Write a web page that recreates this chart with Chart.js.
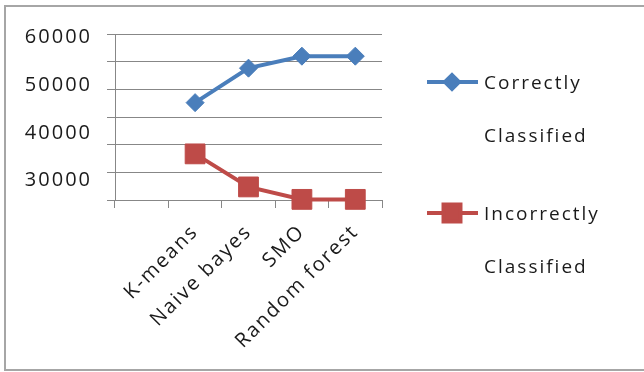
<!DOCTYPE html>
<html>
<head>
<meta charset="utf-8">
<script src="https://cdn.jsdelivr.net/npm/chart.js@4/dist/chart.umd.min.js"></script>
<style>
  html, body { margin: 0; padding: 0; background: #fff; }
  canvas { display: block; }
</style>
</head>
<body>
<canvas id="chart" width="644" height="372"></canvas>
<script>
// Classifier results (number of instances)
const categories = ['', 'K-means', 'Naive bayes', 'SMO', 'Random forest'];
const correctlyClassified = [null, 46300, 53500, 56000, 56000];
const incorrectlyClassified = [null, 35600, 28700, 26100, 26100];
const seriesNames = ['Correctly Classified', 'Incorrectly Classified'];
const yTickValues = [30000, 40000, 50000, 60000];

const FONT = "'Open Sans', 'DejaVu Sans', sans-serif";
const GRID = '#878787';
const BLUE = '#4A7EBB';
const RED = '#BE4B48';
const TEXT = '#1a1a1a';
const LETTER_SPACING = '2px';

// Canvas background, frame and letter spacing for all chart text
const framePlugin = {
  id: 'frame',
  beforeUpdate(chart) { chart.ctx.letterSpacing = LETTER_SPACING; },
  beforeDraw(chart) {
    const ctx = chart.ctx;
    ctx.letterSpacing = LETTER_SPACING;
    ctx.save();
    ctx.fillStyle = '#fff';
    ctx.fillRect(0, 0, chart.width, chart.height);
    ctx.strokeStyle = '#a6a6a6';
    ctx.lineWidth = 2;
    ctx.strokeRect(5, 6, chart.width + 10, 364);
    ctx.restore();
  }
};

// Legend on the right: each series name broken onto two lines
const legendMarkerRadius = { rectRot: 7, rect: 12 };
const sideLegend = {
  id: 'sideLegend',
  afterDraw(chart) {
    const ctx = chart.ctx;
    const rows = [82, 213];
    const x0 = 427, x1 = 478, xm = 452, tx = 484;
    chart.data.datasets.forEach((ds, i) => {
      const y = rows[i];
      ctx.save();
      ctx.strokeStyle = ds.borderColor;
      ctx.lineWidth = ds.borderWidth;
      ctx.beginPath();
      ctx.moveTo(x0, y);
      ctx.lineTo(x1, y);
      ctx.stroke();
      ctx.fillStyle = ds.pointBackgroundColor;
      ctx.strokeStyle = ds.pointBorderColor;
      Chart.helpers.drawPoint(ctx, {
        pointStyle: ds.pointStyle,
        radius: legendMarkerRadius[ds.pointStyle],
        borderWidth: 1,
        rotation: 0
      }, xm, y);
      ctx.restore();

      ctx.save();
      ctx.letterSpacing = LETTER_SPACING;
      ctx.font = '19px ' + FONT;
      ctx.fillStyle = TEXT;
      ctx.textAlign = 'left';
      ctx.textBaseline = 'alphabetic';
      ds.label.split(' ').forEach((word, k) => {
        ctx.fillText(word, tx, y + 7 + k * 53);
      });
      ctx.restore();
    });
  }
};

new Chart(document.getElementById('chart'), {
  type: 'line',
  data: {
    labels: categories,
    datasets: [
      {
        label: seriesNames[0],
        data: correctlyClassified,
        xAxisID: 'x',
        yAxisID: 'y',
        borderColor: BLUE,
        backgroundColor: BLUE,
        borderWidth: 4,
        tension: 0,
        pointStyle: 'rectRot',
        pointRadius: 9,
        pointBackgroundColor: BLUE,
        pointBorderColor: BLUE,
        pointBorderWidth: 1,
        clip: false
      },
      {
        label: seriesNames[1],
        data: incorrectlyClassified,
        xAxisID: 'x',
        yAxisID: 'y',
        borderColor: RED,
        backgroundColor: RED,
        borderWidth: 4,
        tension: 0,
        pointStyle: 'rect',
        pointRadius: 14,
        pointBackgroundColor: RED,
        pointBorderColor: RED,
        pointBorderWidth: 1,
        clip: false
      }
    ]
  },
  options: {
    responsive: false,
    animation: false,
    events: [],
    layout: { padding: { left: 10, top: 34, right: 262, bottom: 10 } },
    plugins: {
      legend: { display: false },
      tooltip: { enabled: false }
    },
    scales: {
      x: {
        type: 'category',
        offset: true,
        grid: { offset: true, drawOnChartArea: false, color: GRID, tickLength: 8 },
        border: { color: GRID },
        ticks: {
          minRotation: 45,
          maxRotation: 45,
          autoSkip: false,
          padding: 12,
          color: TEXT,
          font: { family: FONT, size: 20 }
        },
        afterFit(scale) { scale.height = 162; }
      },
      yGrid: {
        position: 'left',
        weight: 0,
        min: 0,
        max: 6,
        grid: { color: GRID, tickLength: 8 },
        border: { color: GRID },
        ticks: { display: false, stepSize: 1 },
        afterFit(scale) { scale.width = 8; }
      },
      y: {
        position: 'left',
        weight: 1,
        min: 25970,
        max: 60630,
        grid: { display: false, drawTicks: false },
        border: { display: false },
        ticks: {
          padding: 15,
          color: TEXT,
          font: { family: FONT, size: 20 },
          callback: (value) => String(value)
        },
        afterBuildTicks(scale) { scale.ticks = yTickValues.map(v => ({ value: v })); },
        afterFit(scale) { scale.width = 97; }
      }
    }
  },
  plugins: [framePlugin, sideLegend]
});
</script>
</body>
</html>
